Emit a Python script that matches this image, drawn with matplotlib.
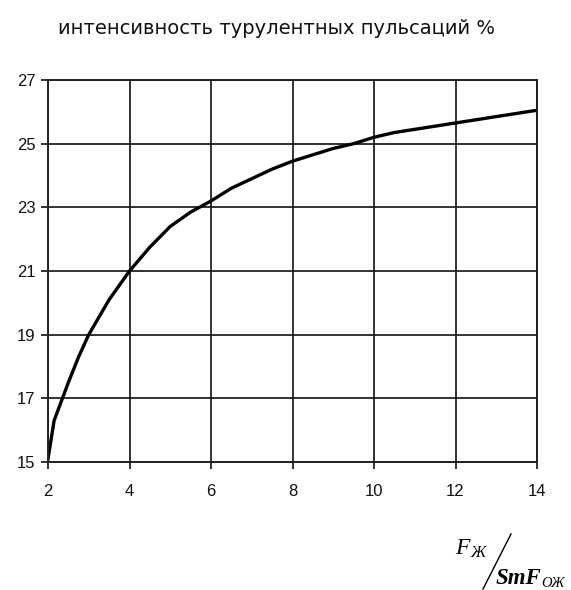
import matplotlib
matplotlib.use("Agg")
import matplotlib.pyplot as plt
from matplotlib.lines import Line2D

title = "интенсивность турулентных пульсаций %"
x_vals = [2, 2.15, 2.5, 2.75, 3, 3.5, 4, 4.5, 5, 5.5, 6, 6.5, 7, 7.5, 8, 8.5,
          9, 9.5, 10, 10.5, 11, 11.5, 12, 12.5, 13, 13.5, 14]
y_vals = [15.1, 16.3, 17.5, 18.3, 19.0, 20.1, 21.0, 21.75, 22.4, 22.85, 23.2,
          23.6, 23.9, 24.2, 24.45, 24.65, 24.85, 25.0, 25.2, 25.35, 25.45,
          25.55, 25.65, 25.75, 25.85, 25.95, 26.05]
x_ticks = [2, 4, 6, 8, 10, 12, 14]
y_ticks = [15, 17, 19, 21, 23, 25, 27]

plt.rcParams['font.family'] = ['Liberation Sans', 'DejaVu Sans']

fig = plt.figure(figsize=(5.71, 5.90), dpi=100)
ax = fig.add_axes([48/571, 1-462/590, (537-48)/571, (462-80)/590])

ax.plot(x_vals, y_vals, color='black', lw=2.4, solid_joinstyle='miter')
ax.set_xlim(2, 14)
ax.set_ylim(15, 27)
ax.set_xticks(x_ticks)
ax.set_yticks(y_ticks)
ax.grid(True, color='#111111', lw=1.2)
for s in ax.spines.values():
    s.set_color('#222222')
    s.set_linewidth(1.4)
ax.tick_params(direction='out', length=5, width=1.2, colors='#111111',
               labelsize=12, pad=6)
ax.tick_params(axis='x', pad=11)
ax.tick_params(axis='y', pad=4)
ax.set_axisbelow(True)

fig.text(276/571, 1-29/590, title, ha='center', va='center', fontsize=14,
         family=['DejaVu Sans'], color='#111111')

# x-axis label formula F_Ж / SmF_ОЖ
fig.text(455/571, 1-554/590, "F", family='Liberation Serif', style='italic',
         fontsize=17, ha='left', va='baseline')
fig.text(470/571, 1-557/590, "Ж", family='Liberation Serif', style='italic',
         fontsize=12, ha='left', va='baseline')
fig.add_artist(Line2D([483/571, 511/571], [1-589/590, 1-534/590],
                      color='black', lw=1.0, transform=fig.transFigure))
fig.text(496/571, 1-584/590, "SmF", family='Liberation Serif', style='italic',
         weight='bold', fontsize=16.5, ha='left', va='baseline')
fig.text(541/571, 1-587/590, "ОЖ", family='Liberation Serif', style='italic',
         fontsize=10.5, ha='left', va='baseline')

fig.savefig("out.png", dpi=100)
